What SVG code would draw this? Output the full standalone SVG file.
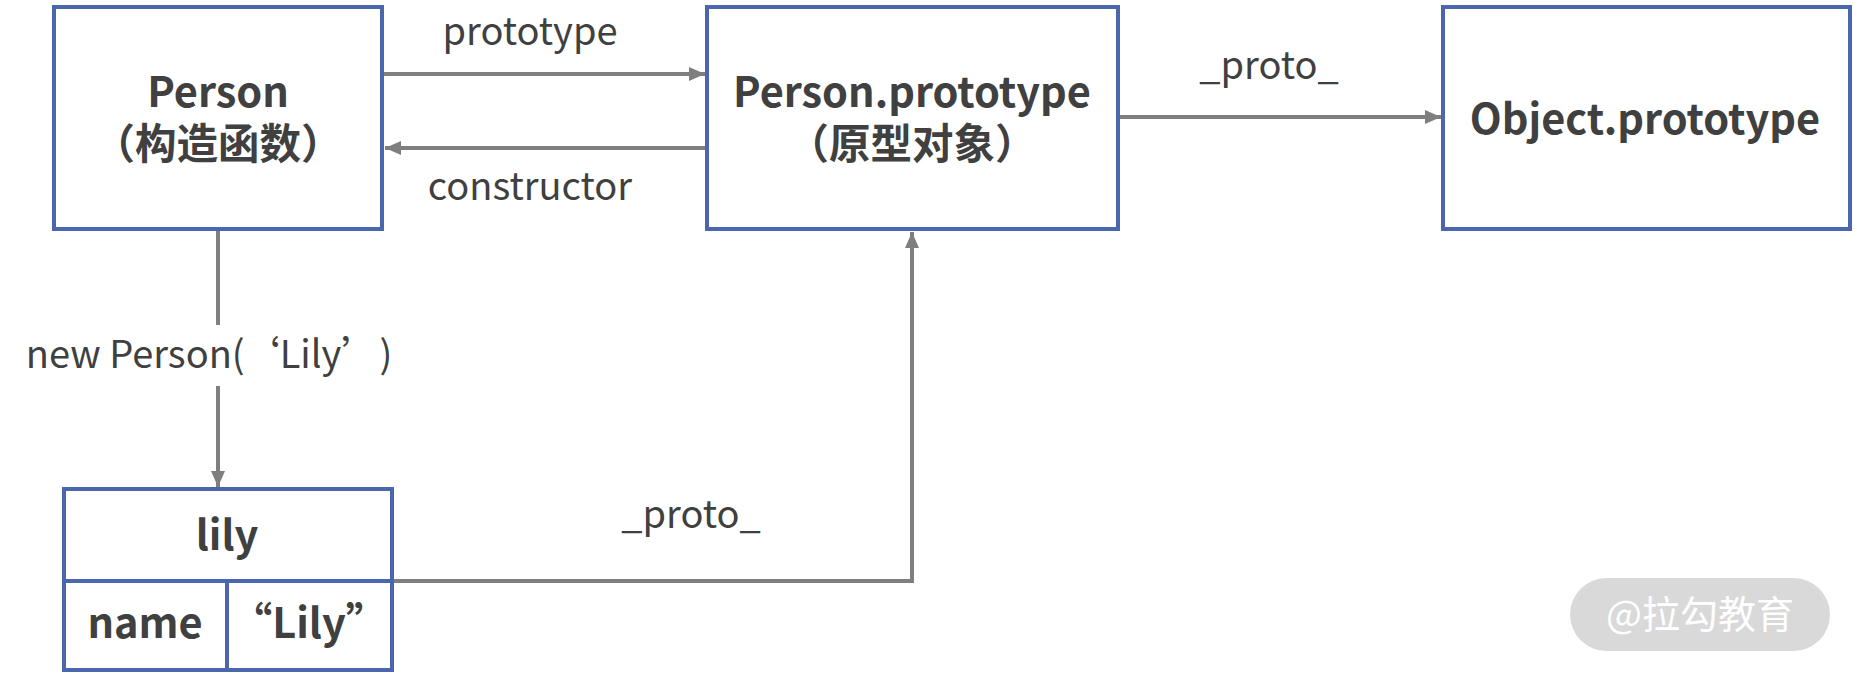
<svg xmlns="http://www.w3.org/2000/svg" width="1855" height="676" viewBox="0 0 1855 676">
<style>
.box{fill:#fff;stroke:#4a66ac;stroke-width:4}
.div{stroke:#4a66ac;stroke-width:4}
.con{fill:none;stroke:#7f7f7f;stroke-width:4}
.t{font-family:"Noto Sans CJK SC","Noto Sans",sans-serif;fill:#404040;text-anchor:middle}
.lab{font-size:38px}
.b{font-size:41.5px;font-weight:bold}
</style>
<defs>
<marker id="ah" markerUnits="userSpaceOnUse" markerWidth="16" markerHeight="14" refX="16" refY="7" orient="auto">
<path d="M0,0 L16,7 L0,14 z" fill="#7f7f7f"/>
</marker>
</defs>
<rect width="1855" height="676" fill="#fff"/>
<g id="connectors">
<line class="con" x1="384" y1="74" x2="705" y2="74" marker-end="url(#ah)"/>
<line class="con" x1="706" y1="148" x2="385" y2="148" marker-end="url(#ah)"/>
<line class="con" x1="218" y1="231" x2="218" y2="325"/>
<line class="con" x1="218" y1="386" x2="218" y2="487" marker-end="url(#ah)"/>
<path class="con" d="M392,581 H912 V232" marker-end="url(#ah)"/>
<line class="con" x1="1119" y1="117" x2="1441" y2="117" marker-end="url(#ah)"/>
<text class="t lab" x="530" y="45">prototype</text>
<text class="t lab" x="530" y="200">constructor</text>
<text class="t lab" x="1269" y="79">_proto_</text>
<text class="t lab" x="691" y="528">_proto_</text>
<text class="t lab" x="209" y="368">new Person(<tspan dx="16">‘Lily’</tspan><tspan dx="19">)</tspan></text>
</g>
<g id="person">
<rect class="box" x="54" y="7" width="328" height="222"/>
<text class="t b" x="218" y="107">Person</text>
<text class="t b" x="218" y="159">（构造函数）</text>
</g>
<g id="person-prototype">
<rect class="box" x="707" y="7" width="411" height="222"/>
<text class="t b" x="912" y="107">Person.prototype</text>
<text class="t b" x="912" y="159">（原型对象）</text>
</g>
<g id="object-prototype">
<rect class="box" x="1443" y="7" width="407" height="222"/>
<text class="t b" x="1645" y="134">Object.prototype</text>
</g>
<g id="lily">
<rect class="box" x="64" y="489" width="328" height="181"/>
<line class="div" x1="64" y1="581" x2="392" y2="581"/>
<line class="div" x1="227" y1="581" x2="227" y2="670"/>
<text class="t b" x="227" y="550">lily</text>
<text class="t b" x="145" y="638">name</text>
<text class="t b" x="309" y="638">“Lily”</text>
</g>
<g id="watermark">
<rect x="1570" y="578" width="260" height="73" rx="36.5" fill="#d9d9d9"/>
<text class="t" x="1700" y="628" style="font-size:38px;fill:#fff">@拉勾教育</text>
</g>
</svg>
